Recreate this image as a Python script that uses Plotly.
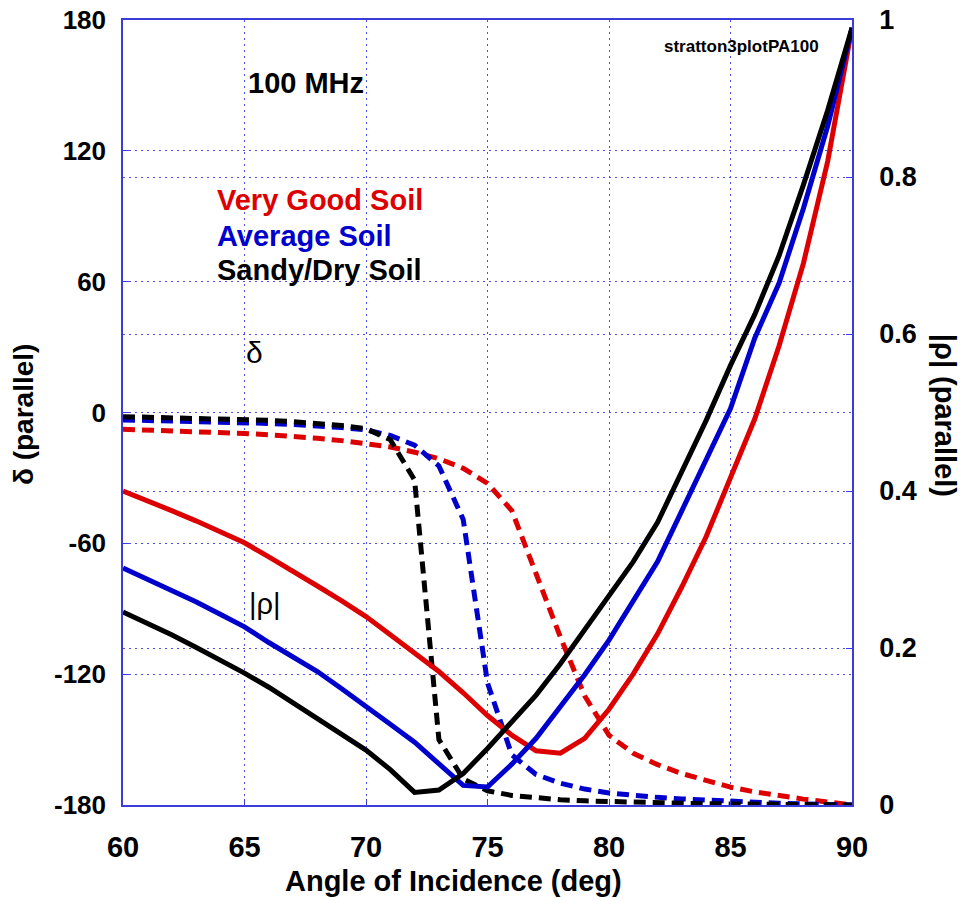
import plotly.graph_objects as go

angle = list(range(60, 91))

rho_very_good = [0.400, 0.388, 0.375, 0.362, 0.348, 0.334, 0.316, 0.298, 0.279, 0.260,
                 0.240, 0.217, 0.194, 0.170, 0.143, 0.114, 0.089, 0.069, 0.066, 0.085,
                 0.122, 0.167, 0.218, 0.278, 0.342, 0.418, 0.492, 0.585, 0.690, 0.820, 0.990]
rho_average = [0.302, 0.288, 0.274, 0.259, 0.243, 0.227, 0.207, 0.188, 0.170, 0.148,
               0.126, 0.103, 0.080, 0.052, 0.025, 0.023, 0.052, 0.085, 0.125, 0.166,
               0.210, 0.260, 0.310, 0.375, 0.440, 0.505, 0.595, 0.665, 0.760, 0.865, 0.990]
rho_sandy = [0.246, 0.232, 0.217, 0.201, 0.185, 0.168, 0.150, 0.130, 0.110, 0.090,
             0.070, 0.045, 0.016, 0.019, 0.040, 0.072, 0.105, 0.140, 0.180, 0.223,
             0.265, 0.310, 0.360, 0.425, 0.490, 0.560, 0.625, 0.700, 0.790, 0.885, 0.990]

delta_very_good = [-7.7, -8.0, -8.4, -8.8, -9.2, -9.6, -10.2, -10.9, -11.8, -12.9,
                   -14.2, -15.8, -18.2, -21.2, -25.6, -32.5, -45.0, -74.0, -103.0, -130.0,
                   -148.0, -156.3, -161.5, -165.6, -169.0, -171.8, -174.0, -175.8, -177.3, -178.6, -180.0]
delta_average = [-3.4, -3.6, -3.8, -4.0, -4.3, -4.6, -5.0, -5.5, -6.1, -6.9,
                 -8.0, -10.5, -15.0, -24.5, -49.0, -124.0, -157.0, -166.0, -170.0, -172.7,
                 -174.5, -175.6, -176.5, -177.2, -177.8, -178.4, -178.8, -179.2, -179.5, -179.8, -180.0]
delta_sandy = [-1.9, -2.1, -2.3, -2.5, -2.8, -3.1, -3.6, -4.2, -5.0, -6.0,
               -7.4, -12.5, -31.0, -150.0, -168.0, -173.5, -175.6, -176.8, -177.6, -178.1,
               -178.5, -178.8, -179.0, -179.2, -179.4, -179.5, -179.6, -179.7, -179.8, -179.9, -180.0]

x_ticks = [60, 65, 70, 75, 80, 85, 90]
delta_ticks = [-180, -120, -60, 0, 60, 120, 180]
delta_tick_text = ["-180", "-120", "-60", "0", "60", "120", "180"]
rho_ticks = [0, 0.2, 0.4, 0.6, 0.8, 1]
rho_tick_text = ["0", "0.2", "0.4", "0.6", "0.8", "1"]

soils = ["Very Good Soil", "Average Soil", "Sandy/Dry Soil"]
colors = ["#dc0000", "#0000cc", "#000000"]

GRID = "rgba(60,60,225,0.9)"
FRAME = "#3c3cdc"
FONT = "Liberation Sans, Arial, sans-serif"

fig = go.Figure()

for name, col, d in zip(soils, colors, [delta_very_good, delta_average, delta_sandy]):
    fig.add_trace(go.Scatter(x=angle, y=d, mode="lines", name=name + " δ",
                             line=dict(color=col, width=5, dash="12px,7px"),
                             yaxis="y"))
for name, col, r in zip(soils, colors, [rho_very_good, rho_average, rho_sandy]):
    fig.add_trace(go.Scatter(x=angle, y=r, mode="lines", name=name + " |ρ|",
                             line=dict(color=col, width=5),
                             yaxis="y2"))

def tf(size):
    return dict(family=FONT, size=size, color="black", weight="bold")

common = dict(ticks="inside", ticklen=6, tickcolor=FRAME, showgrid=True,
              gridcolor=GRID, griddash="2px,4px", gridwidth=1, showline=True,
              linecolor=FRAME, linewidth=1.5, zeroline=False,
              ticklabeloverflow="allow", automargin=False)

fig.update_layout(
    width=971, height=901,
    margin=dict(l=123, r=119, t=20, b=96, autoexpand=False),
    paper_bgcolor="white", plot_bgcolor="white",
    showlegend=False,
    xaxis=dict(range=[60, 90], tickvals=x_ticks, mirror=True,
               tickfont=tf(29), ticklabelstandoff=15, **common),
    yaxis=dict(range=[-180, 180], tickvals=delta_ticks, ticktext=delta_tick_text,
               mirror=True, tickfont=tf(26), ticklabelstandoff=10, **common),
    yaxis2=dict(range=[0, 1], tickvals=rho_ticks, ticktext=rho_tick_text,
                overlaying="y", side="right",
                tickfont=tf(27), ticklabelstandoff=20, **common),
)

def note(text, x, y, size, color="black", bold=True, angle=0, xanchor="center"):
    fig.add_annotation(text=text, x=x, y=y, xref="paper", yref="paper",
                       showarrow=False, textangle=angle, xanchor=xanchor, yanchor="middle",
                       font=dict(family=FONT, size=size, color=color,
                                 weight="bold" if bold else "normal"))

note("100 MHz", 0.251, 0.920, 29)
note("stratton3plotPA100", 0.848, 0.966, 17)
for name, col, yy in zip(soils, colors, [0.771, 0.725, 0.682]):
    note(name, 0.126, yy, 29, color=col, xanchor="left")
note("δ", 0.181, 0.577, 30, bold=False)
note("|ρ|", 0.195, 0.256, 29, bold=False)
note("δ (parallel)", -0.1355, 0.497, 28, angle=-90)
note("|ρ| (parallel)", 1.1276, 0.497, 29, angle=90)
note("Angle of Incidence (deg)", 0.4527, -0.0968, 29)

fig.write_html("out.html", config={"displayModeBar": False},
               post_script="document.body.style.margin='0';document.body.style.overflow='hidden';")
